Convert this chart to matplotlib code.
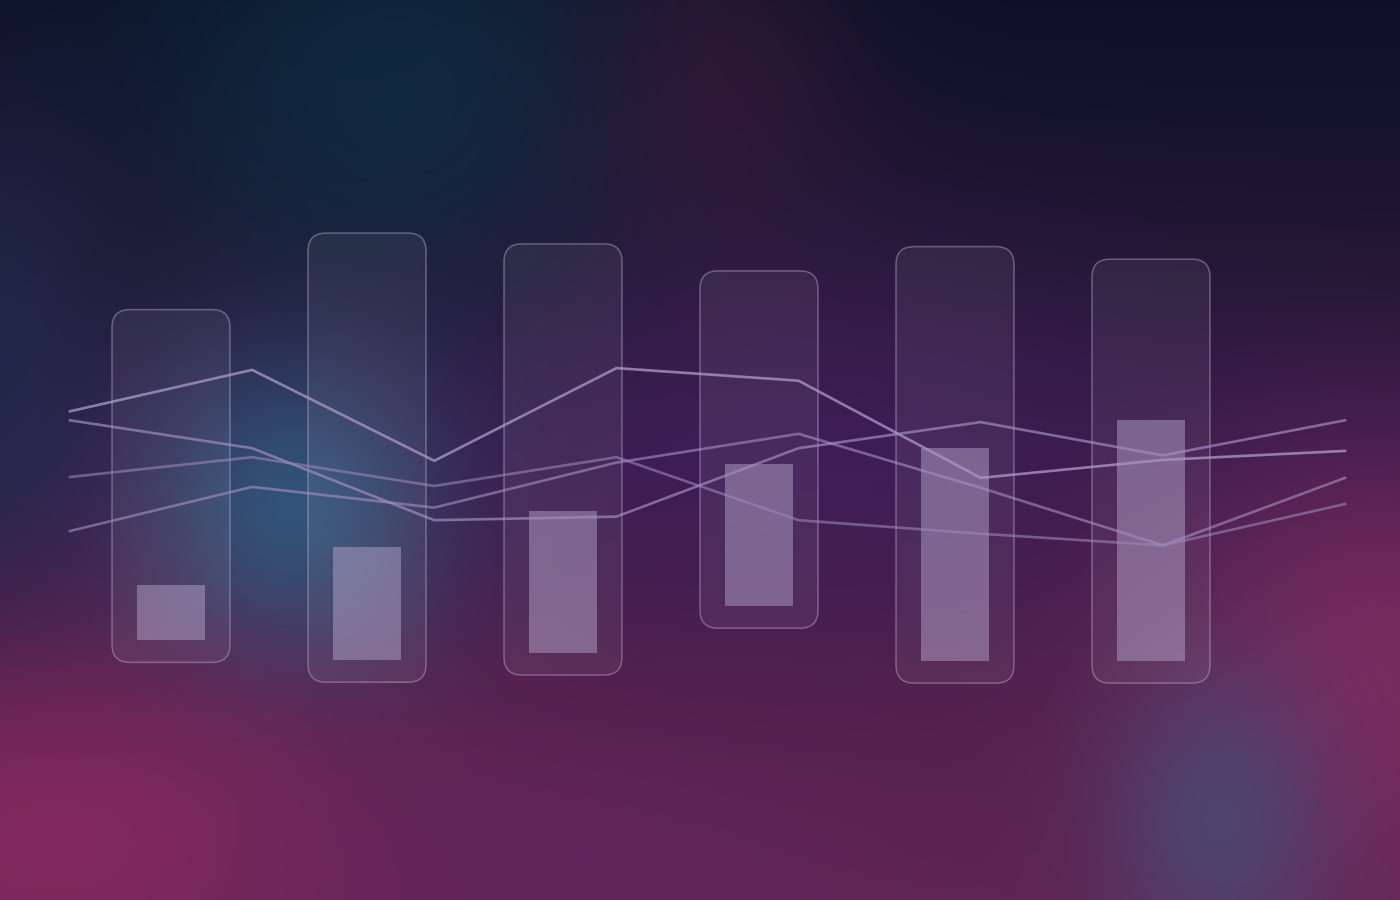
import numpy as np
import matplotlib
matplotlib.use("Agg")
import matplotlib.pyplot as plt
from matplotlib.patches import FancyBboxPatch
from matplotlib.colors import to_rgb

# --- data (values on a 0-100 scale) ---
categories = ["A", "B", "C", "D", "E", "F"]
box_low = [26.4, 24.2, 25.0, 30.2, 24.1, 24.1]
box_high = [65.6, 74.1, 72.9, 69.9, 72.6, 71.2]
bar_low = [28.9, 26.7, 27.4, 32.7, 26.6, 26.6]
bar_high = [35.0, 39.2, 43.2, 48.4, 50.2, 53.3]

line_steps = [0, 1, 2, 3, 4, 5, 6, 7]
line_a = [54.3, 58.9, 48.8, 59.1, 57.7, 46.9, 48.9, 49.9]
line_b = [53.3, 50.2, 42.2, 42.6, 50.2, 53.1, 49.4, 53.3]
line_c = [47.0, 49.2, 46.0, 49.2, 42.2, 40.7, 39.4, 44.0]
line_d = [41.0, 45.9, 43.6, 48.6, 51.8, 45.8, 39.4, 46.9]

W, H = 1400, 900


def make_background():
    yy, xx = np.mgrid[0:H, 0:W].astype(float)
    stops = [(0.0, "#0d1127"), (0.3, "#221734"), (0.5, "#361a4a"),
             (0.75, "#52204c"), (1.0, "#5e2452")]
    t = yy / (H - 1)
    img = np.zeros((H, W, 3))
    pos = [s[0] for s in stops]
    cols = np.array([to_rgb(s[1]) for s in stops])
    for k in range(3):
        img[..., k] = np.interp(t, pos, cols[:, k])

    blobs = [
        # x, y, sigma_x, sigma_y, color, strength
        (400, 90, 190, 160, "#0f2c42", 0.85),
        (0, 370, 70, 170, "#1f2b4c", 0.8),
        (720, 90, 100, 130, "#3c1838", 0.6),
        (800, 440, 240, 140, "#44205e", 0.6),
        (290, 510, 105, 115, "#31567a", 0.95),
        (60, 840, 220, 120, "#86295f", 0.9),
        (560, 870, 200, 80, "#662660", 0.6),
        (1380, 680, 150, 160, "#7e2b60", 0.9),
        (1220, 820, 80, 110, "#4a4a74", 0.85),
    ]
    for bx, by, sx, sy, c, a in blobs:
        w = a * np.exp(-((xx - bx) ** 2 / (2 * sx ** 2) + (yy - by) ** 2 / (2 * sy ** 2)))
        img = img * (1 - w[..., None]) + np.array(to_rgb(c)) * w[..., None]
    return np.clip(img, 0, 1)


fig = plt.figure(figsize=(14, 9), dpi=100)

ax_bg = fig.add_axes([0, 0, 1, 1])
ax_bg.imshow(make_background(), extent=[0, W, H, 0], aspect="auto")
ax_bg.axis("off")

# bars axis: category i centred at 171 + 196*i px
ax = fig.add_axes([0, 0, 1, 1])
ax.patch.set_alpha(0)
x0, x1 = -171 / 196, (W - 171) / 196
ax.set_xlim(x0, x1)
ax.set_ylim(0, 100)
ax.axis("off")

px_x = W / (x1 - x0)
px_y = H / 100.0
box_w = 118 / px_x
bar_w = 68 / px_x
r = 18 / px_x

xs = np.arange(len(categories))
for i in xs:
    p = FancyBboxPatch((i - box_w / 2, box_low[i]), box_w, box_high[i] - box_low[i],
                       boxstyle="round,pad=0,rounding_size=%f" % r,
                       mutation_aspect=px_x / px_y,
                       facecolor=(1, 1, 1, 0.06), edgecolor=(0.78, 0.70, 0.86, 0.42),
                       linewidth=1.1, zorder=2)
    ax.add_patch(p)

ax.bar(xs, np.array(bar_high) - np.array(bar_low), bottom=bar_low, width=bar_w,
       color="#bcaed2", alpha=0.45, zorder=3)

# lines axis: step j at 70 + 182.14*j px
ax2 = fig.add_axes([0, 0, 1, 1])
ax2.patch.set_alpha(0)
step = (1345 - 70) / 7
ax2.set_xlim(-70 / step, (W - 70) / step)
ax2.set_ylim(0, 100)
ax2.axis("off")

ax2.plot(line_steps, line_a, color="#a894c4", alpha=0.8, lw=1.9, zorder=4)
ax2.plot(line_steps, line_b, color="#a08cbc", alpha=0.7, lw=1.9, zorder=4)
ax2.plot(line_steps, line_c, color="#9a86b8", alpha=0.6, lw=1.9, zorder=4)
ax2.plot(line_steps, line_d, color="#a48ec0", alpha=0.62, lw=1.9, zorder=4)

fig.savefig("out.png", dpi=100)
